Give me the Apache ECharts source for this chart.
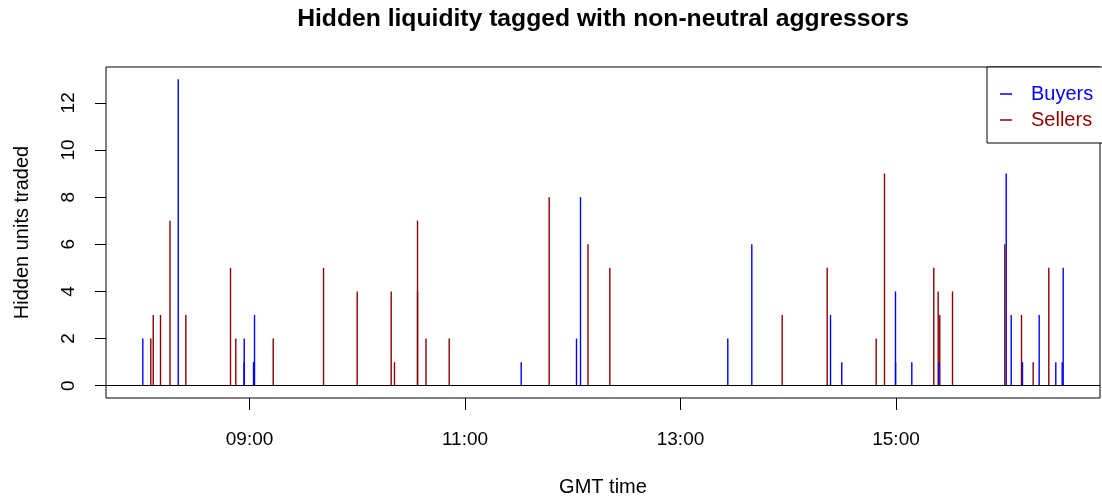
<!DOCTYPE html>
<html>
<head>
<meta charset="utf-8">
<script src="https://cdn.jsdelivr.net/npm/echarts@6/dist/echarts.min.js"></script>
<style>html,body{margin:0;padding:0;background:#fff;}#c{width:1102px;height:500px;}</style>
</head>
<body>
<div id="c"></div>
<script>
// Buyers: [time (GMT), hidden units traded]
const buyerTimes = ['08:00:35','08:20:18','08:57:03','08:56:58','09:02:14','09:02:47','11:31:17','12:02:05','12:04:19','13:26:20','13:39:42','14:23:32','14:29:49','14:59:43','14:59:45','15:08:48','15:23:50','16:01:22','16:04:09','16:10:26','16:19:44','16:28:59','16:32:33','16:33:06'];
const buyerUnits = [2,13,2,1,1,3,1,2,8,2,6,3,1,4,1,1,1,9,3,1,3,1,1,5];
// Sellers
const sellerTimes = ['08:05:02','08:06:23','08:10:26','08:15:44','08:24:32','08:49:25','08:52:22','09:13:12','09:41:13','09:59:58','10:18:54','10:20:44','10:33:33','10:33:34','10:38:17','10:51:12','11:46:53','12:08:30','12:20:38','13:56:38','14:21:41','14:48:58','14:53:36','15:21:03','15:23:30','15:24:23','15:31:28','16:00:35','16:09:53','16:16:23','16:25:05'];
const sellerUnits = [2,3,3,7,3,5,2,2,5,4,4,1,7,4,2,2,8,6,5,3,5,2,9,5,4,3,4,6,3,1,5];
const xTickHours = [9,11,13,15];
const yTicks = [0,2,4,6,8,10,12];

const FONT = "'Liberation Sans', Arial, sans-serif";
const toHours = s => { const p = s.split(':').map(Number); return p[0] + p[1]/60 + (p[2]||0)/3600; };
const buyers = buyerTimes.map((t,i) => [toHours(t), buyerUnits[i]]);
const sellers = sellerTimes.map((t,i) => [toHours(t), sellerUnits[i]]);

// R-style 4% axis extension
const allX = buyers.concat(sellers).map(d => d[0]);
const xLo = Math.min(...allX), xHi = Math.max(...allX), xPad = (xHi - xLo) * 0.04;
const allY = buyerUnits.concat(sellerUnits, [0]);
const yLo = Math.min(...allY), yHi = Math.max(...allY), yPad = (yHi - yLo) * 0.04;

function spike(color) {
  return function (params, api) {
    const p0 = api.coord([api.value(0), 0]);
    const p1 = api.coord([api.value(0), api.value(1)]);
    return { type: 'line', shape: { x1: p0[0], y1: p0[1], x2: p1[0], y2: p1[1] },
             style: { stroke: color, lineWidth: 1.4 } };
  };
}

const chart = echarts.init(document.getElementById('c'), null, { renderer: 'canvas' });
chart.setOption({
  animation: false,
  backgroundColor: '#fff',
  textStyle: { fontFamily: FONT },
  title: {
    text: 'Hidden liquidity tagged with non-neutral aggressors',
    left: 603, textAlign: 'center', top: 7, padding: 0,
    textStyle: { fontFamily: FONT, fontWeight: 'bold', fontSize: 24.7, color: '#000' }
  },
  legend: {
    orient: 'vertical', left: 987, top: 67,
    data: [
      { name: 'Buyers', textStyle: { color: '#0000ff' } },
      { name: 'Sellers', textStyle: { color: '#8b0000' } }
    ],
    icon: 'rect', itemWidth: 12, itemHeight: 1.5, itemGap: 6,
    padding: [17, 10, 13, 13],
    borderColor: '#000', borderWidth: 1, backgroundColor: '#fff',
    textStyle: { fontFamily: FONT, fontSize: 20, padding: [0, 0, 0, 14] }
  },
  grid: { left: 106, right: 2, top: 67, bottom: 102, show: true, borderColor: '#000', borderWidth: 1,
          containLabel: false, outerBoundsMode: 'none' },
  xAxis: {
    type: 'value', min: xLo - xPad, max: xHi + xPad,
    name: 'GMT time', nameLocation: 'middle', nameGap: 79,
    nameTextStyle: { fontFamily: FONT, fontSize: 20, color: '#000' },
    axisLine: { show: false, onZero: false },
    splitLine: { show: false },
    axisTick: { show: true, customValues: xTickHours, length: 12, lineStyle: { color: '#000', width: 1 } },
    axisLabel: { customValues: xTickHours, margin: 32, fontFamily: FONT, fontSize: 19, color: '#000',
      formatter: v => String(Math.round(v)).padStart(2, '0') + ':00' }
  },
  yAxis: {
    type: 'value', min: yLo - yPad, max: yHi + yPad,
    name: 'Hidden units traded', nameLocation: 'middle', nameGap: 74, nameRotate: 90,
    nameTextStyle: { fontFamily: FONT, fontSize: 20, color: '#000' },
    axisLine: { show: false, onZero: false },
    splitLine: { show: false },
    axisTick: { show: true, customValues: yTicks, length: 11, lineStyle: { color: '#000', width: 1 } },
    axisLabel: { customValues: yTicks, rotate: 90, margin: 28, fontFamily: FONT, fontSize: 19, color: '#000' }
  },
  series: [
    {
      name: 'Sellers', type: 'custom', renderItem: spike('#8b0000'), data: sellers,
      itemStyle: { color: '#8b0000' }, encode: { x: 0, y: 1 },
      markLine: { silent: true, symbol: 'none', label: { show: false },
        lineStyle: { color: '#000', width: 1, type: 'solid' }, data: [{ yAxis: 0 }] }
    },
    {
      name: 'Buyers', type: 'custom', renderItem: spike('#0000ff'), data: buyers,
      itemStyle: { color: '#0000ff' }, encode: { x: 0, y: 1 }
    }
  ]
});
</script>
</body>
</html>
